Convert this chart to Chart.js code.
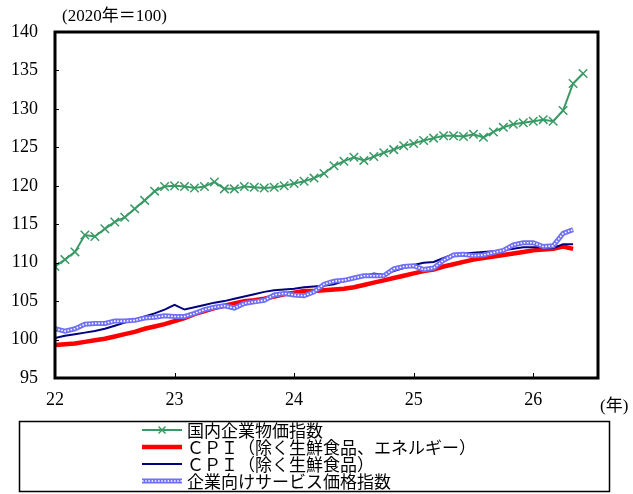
<!DOCTYPE html>
<html>
<head>
<meta charset="utf-8">
<script src="https://cdn.jsdelivr.net/npm/chart.js@4.4.1/dist/chart.umd.min.js"></script>
<style>
  body { margin: 0; background: #fff; }
  canvas { display: block; }
</style>
</head>
<body>
<canvas id="chart" width="633" height="494"></canvas>
<script>
// monthly index, 0 = 2022/1
const yearTicks = [0, 12, 24, 36, 48];
const yearLabels = ['22', '23', '24', '25', '26'];

const seriesNames = [
  '国内企業物価指数',
  'ＣＰＩ（除く生鮮食品、エネルギー）',
  'ＣＰＩ（除く生鮮食品）',
  '企業向けサービス価格指数'
];

// 国内企業物価指数
const cgpi = [
  109.5, 110.4, 111.4, 113.6, 113.4, 114.4, 115.3, 115.9, 117.0, 118.1, 119.3, 119.9,
  120.0, 119.9, 119.7, 119.9, 120.5, 119.6, 119.6, 119.9, 119.8, 119.7, 119.8, 120.0,
  120.3, 120.6, 121.0, 121.6, 122.6, 123.2, 123.7, 123.3, 123.8, 124.3, 124.7, 125.2,
  125.5, 125.9, 126.2, 126.5, 126.5, 126.4, 126.7, 126.3, 127.0, 127.6, 128.0, 128.2,
  128.4, 128.6, 128.4, 129.8, 133.3, 134.6
];
// CPI (除く生鮮食品、エネルギー)
const cpiCoreCore = [
  99.3, 99.4, 99.5, 99.7, 99.9, 100.1, 100.4, 100.7, 101.0, 101.4, 101.7, 102.0,
  102.4, 102.8, 103.3, 103.7, 104.1, 104.4, 104.7, 105.0, 105.1, 105.3, 105.6, 105.9,
  106.1, 106.3, 106.3, 106.4, 106.5, 106.6, 106.8, 107.1, 107.4, 107.7, 108.0, 108.3,
  108.6, 108.9, 109.1, 109.5, 109.8, 110.1, 110.4, 110.6, 110.8, 111.0, 111.2, 111.4,
  111.6, 111.7, 111.8, 112.1, 111.8
];
// CPI (除く生鮮食品)
const cpiCore = [
  100.2, 100.5, 100.7, 100.9, 101.1, 101.4, 101.8, 102.2, 102.6, 103.0, 103.4, 103.9,
  104.5, 103.9, 104.2, 104.5, 104.8, 105.0, 105.3, 105.6, 105.9, 106.2, 106.4, 106.5,
  106.6, 106.8, 106.9, 107.0, 107.2, 107.6, 107.9, 108.2, 108.6, 108.4, 108.9, 109.3,
  109.7, 110.0, 110.1, 110.6, 111.1, 111.2, 111.3, 111.4, 111.5, 111.6, 111.8, 112.0,
  112.0, 112.0, 111.9, 112.4, 112.4
];
// 企業向けサービス価格指数
const sppi = [
  101.4, 101.1, 101.4, 102.0, 102.1, 102.1, 102.4, 102.4, 102.5, 102.8, 102.9, 103.1,
  103.0, 103.0, 103.4, 103.9, 104.2, 104.4, 104.1, 104.7, 104.9, 105.1, 105.8, 106.0,
  105.8, 105.7, 106.2, 107.2, 107.6, 107.7, 108.0, 108.3, 108.3, 108.3, 109.2, 109.5,
  109.6, 109.1, 109.3, 110.3, 111.0, 111.1, 110.9, 111.0, 111.3, 111.6, 112.3, 112.6,
  112.6, 112.1, 112.2, 113.8, 114.3
];

const GREEN = '#3a9a66';
const RED = '#ff0000';
const NAVY = '#000080';
const LIGHTBLUE = '#6f6ff7';

const serif = '"Liberation Serif", "Noto Sans CJK JP", serif';
const jp = '"Noto Sans CJK JP", sans-serif';

function toPoints(arr) {
  return arr.map((v, i) => ({ x: i, y: v }));
}

// frame, inner ticks, unit labels and boxed legend
const decorPlugin = {
  id: 'decor',
  afterDraw(chart) {
    const ctx = chart.ctx;
    const a = chart.chartArea;
    const xs = chart.scales.x, ys = chart.scales.y;
    ctx.save();

    // inner tick marks
    ctx.strokeStyle = '#000';
    ctx.lineWidth = 1;
    ys.ticks.forEach(t => {
      if (t.value <= ys.min || t.value >= ys.max) return;
      const y = Math.round(ys.getPixelForValue(t.value)) + 0.5;
      ctx.beginPath(); ctx.moveTo(a.left, y); ctx.lineTo(a.left + 4, y); ctx.stroke();
    });
    xs.ticks.forEach(t => {
      if (t.value <= xs.min) return;
      const x = Math.round(xs.getPixelForValue(t.value)) + 0.5;
      ctx.beginPath(); ctx.moveTo(x, a.bottom); ctx.lineTo(x, a.bottom - 5); ctx.stroke();
    });

    // plot frame
    ctx.lineWidth = 3;
    ctx.strokeRect(a.left, a.top, a.right - a.left, a.bottom - a.top);

    // unit labels
    ctx.fillStyle = '#000';
    ctx.font = '17px ' + serif;
    ctx.textBaseline = 'middle';
    ctx.textAlign = 'left';
    ctx.fillText('(2020年＝100)', 62, 17);
    ctx.fillText('(年)', 600, 407);

    // legend box
    ctx.lineWidth = 1.5;
    ctx.strokeRect(19.5, 421.5, 590, 70);
    const rows = [430, 447, 464, 481];
    const x0 = 142, x1 = 182;
    ctx.font = '17px ' + jp;
    rows.forEach((ry, i) => {
      ctx.setLineDash([]);
      if (i === 0) {
        ctx.strokeStyle = GREEN; ctx.lineWidth = 2;
        ctx.beginPath(); ctx.moveTo(x0, ry); ctx.lineTo(x1, ry); ctx.stroke();
        const cx = (x0 + x1) / 2;
        ctx.lineWidth = 1.5;
        ctx.beginPath();
        ctx.moveTo(cx - 3.5, ry - 3.5); ctx.lineTo(cx + 3.5, ry + 3.5);
        ctx.moveTo(cx - 3.5, ry + 3.5); ctx.lineTo(cx + 3.5, ry - 3.5);
        ctx.stroke();
      } else if (i === 1) {
        ctx.strokeStyle = RED; ctx.lineWidth = 4.5;
        ctx.beginPath(); ctx.moveTo(x0, ry); ctx.lineTo(x1, ry); ctx.stroke();
      } else if (i === 2) {
        ctx.strokeStyle = NAVY; ctx.lineWidth = 2;
        ctx.beginPath(); ctx.moveTo(x0, ry); ctx.lineTo(x1, ry); ctx.stroke();
      } else {
        ctx.strokeStyle = LIGHTBLUE; ctx.lineWidth = 5;
        ctx.beginPath(); ctx.moveTo(x0, ry); ctx.lineTo(x1, ry); ctx.stroke();
        ctx.strokeStyle = '#fff'; ctx.lineWidth = 1.6; ctx.setLineDash([1.6, 1.6]);
        ctx.beginPath(); ctx.moveTo(x0, ry); ctx.lineTo(x1, ry); ctx.stroke();
        ctx.setLineDash([]);
      }
      ctx.fillStyle = '#000';
      ctx.fillText(seriesNames[i], 187, ry + 1);
    });
    ctx.restore();
  }
};

new Chart(document.getElementById('chart'), {
  type: 'line',
  data: {
    datasets: [
      {
        label: seriesNames[0], data: toPoints(cgpi), borderColor: GREEN, borderWidth: 2,
        pointStyle: 'crossRot', pointRadius: 6, pointBorderWidth: 1.5,
        pointBorderColor: GREEN, pointBackgroundColor: GREEN, order: 1
      },
      {
        label: seriesNames[1], data: toPoints(cpiCoreCore), borderColor: RED, borderWidth: 4.5,
        pointRadius: 0, order: 4
      },
      {
        label: seriesNames[2], data: toPoints(cpiCore), borderColor: NAVY, borderWidth: 2,
        pointRadius: 0, order: 3
      },
      {
        label: seriesNames[3], data: toPoints(sppi), borderColor: LIGHTBLUE, borderWidth: 5,
        pointRadius: 0, order: 2
      },
      {
        // dotted core of the service price line
        label: 'sppi-dots', data: toPoints(sppi), borderColor: '#ffffff', borderWidth: 1.6,
        borderDash: [1.6, 1.6], pointRadius: 0, order: 0
      }
    ]
  },
  options: {
    responsive: false,
    animation: false,
    layout: { padding: { top: 32, right: 35, left: 0, bottom: 0 } },
    plugins: {
      legend: { display: false },
      tooltip: { enabled: false }
    },
    scales: {
      x: {
        type: 'linear', min: 0, max: 54.5,
        grid: { display: false, drawTicks: false },
        border: { display: false },
        afterBuildTicks: s => { s.ticks = yearTicks.map(v => ({ value: v })); },
        afterFit: s => { s.height = 116; },
        ticks: {
          padding: 11, color: '#000', font: { family: serif, size: 18 },
          maxRotation: 0, autoSkip: false,
          callback: v => yearLabels[yearTicks.indexOf(v)]
        }
      },
      y: {
        min: 95, max: 140,
        grid: { display: false, drawTicks: false },
        border: { display: false },
        afterFit: s => { s.width = 55; },
        ticks: { stepSize: 5, padding: 17, color: '#000', font: { family: serif, size: 18 } }
      }
    }
  },
  plugins: [decorPlugin]
});
</script>
</body>
</html>
